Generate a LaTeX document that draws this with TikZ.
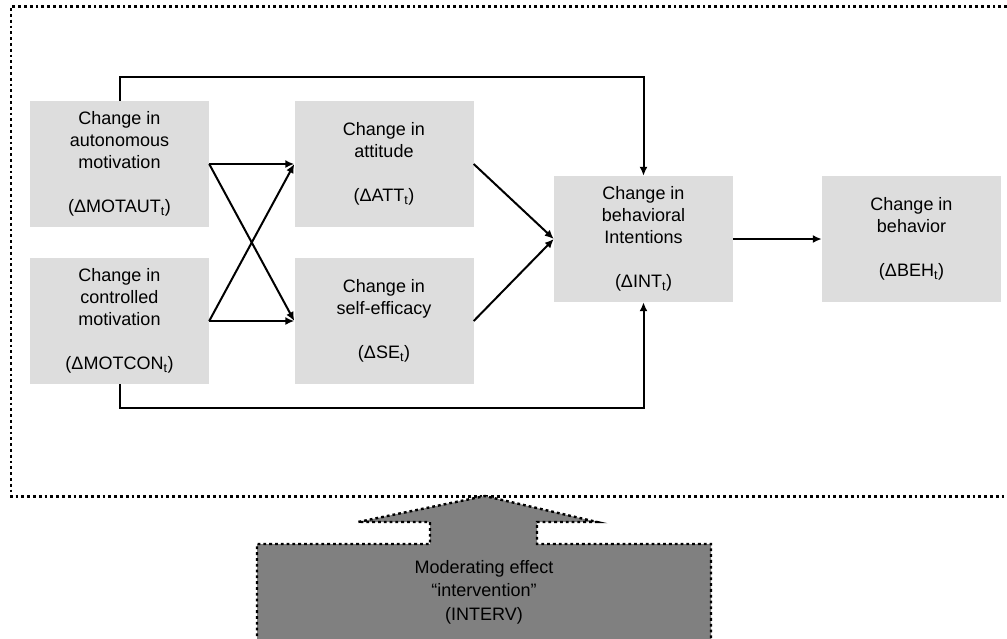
\documentclass[tikz,border=0pt]{standalone}
\usepackage{fontspec}
\setmainfont{Liberation Sans}
\usetikzlibrary{arrows.meta}
\definecolor{boxgray}{RGB}{221,221,221}
\definecolor{intgray}{RGB}{128,128,128}
\begin{document}
\begin{tikzpicture}[x=1pt,y=-1pt,
  box/.style={fill=boxgray, draw=none, minimum width=179pt, minimum height=126pt,
    inner sep=0pt, align=center, font=\fontsize{18}{22}\selectfont},
  conn/.style={line width=2pt, -{Latex[length=9pt,width=8pt]}},
  frame/.style={line width=2.6pt, dash pattern=on 2.8pt off 3pt}]
\useasboundingbox (0,0) rectangle (1007,638);
% outer dotted frame (open on the right)
\draw[frame] (1007,6.5) -- (11,6.5) -- (11,496.5) -- (1007,496.5);
% boxes
\node[box] (aut) at (119.5,164) {Change in\\autonomous\\motivation\\[22pt](ΔMOTAUT\textsubscript{t})};
\node[box] (con) at (119.5,321) {Change in\\controlled\\motivation\\[22pt](ΔMOTCON\textsubscript{t})};
\node[box] (att) at (384,164) {Change in\\attitude\\[22pt](ΔATT\textsubscript{t})};
\node[box] (se) at (384,321) {Change in\\self-efficacy\\[22pt](ΔSE\textsubscript{t})};
\node[box] (int) at (643.5,239) {Change in\\behavioral\\Intentions\\[22pt](ΔINT\textsubscript{t})};
\node[box] (beh) at (911.5,239) {Change in\\behavior\\[22pt](ΔBEH\textsubscript{t})};
% connectors
\draw[conn] (aut.east) -- (att.west);
\draw[conn] (aut.east) -- (se.west);
\draw[conn] (con.east) -- (se.west);
\draw[conn] (con.east) -- (att.west);
\draw[conn] (att.east) -- (int.west);
\draw[conn] (se.east) -- (int.west);
\draw[conn] (int.east) -- (beh.west);
\coordinate (topL) at (119.5,77);
\coordinate (botL) at (119.5,407.5);
\draw[conn] (aut.north) -- (topL) -| (int.north);
\draw[conn] (con.south) -- (botL) -| (int.south);
% intervention block arrow
\draw[frame, line width=2.4pt, fill=intgray]
  (257,642) -- (257,544) -- (430,544) -- (430,522) -- (358,522) -- (485,496)
  -- (597,522) -- (537,522) -- (537,544) -- (711,544) -- (711,642);
\node[align=center, inner sep=0pt, font=\fontsize{18}{23.5}\selectfont] (interv) at (484,592)
  {Moderating effect\\“intervention”\\(INTERV)};
\end{tikzpicture}
\end{document}
